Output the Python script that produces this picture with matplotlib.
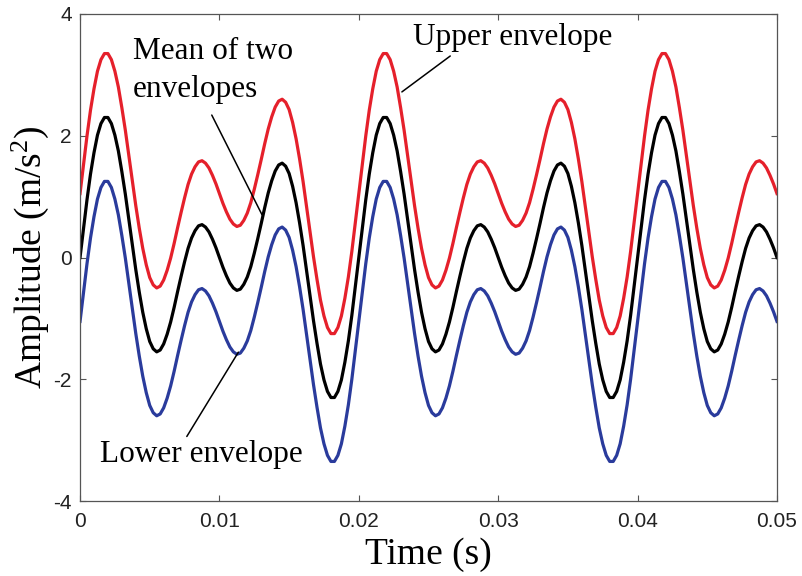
import numpy as np
import matplotlib
matplotlib.use("Agg")
import matplotlib.pyplot as plt

plt.rcParams["axes.unicode_minus"] = False
plt.rcParams["mathtext.fontset"] = "custom"
plt.rcParams["mathtext.rm"] = "Liberation Serif"
plt.rcParams["mathtext.it"] = "Liberation Serif:italic"
plt.rcParams["mathtext.default"] = "rm"

# Sampling grid (s)
time_s = np.linspace(0.0, 0.05, 201)

# Upper envelope (m/s^2)
upper_env = [
    1.05, 1.53, 2.00, 2.42, 2.77, 3.06, 3.25, 3.35, 3.35, 3.25,
    3.06, 2.80, 2.46, 2.09, 1.68, 1.26, 0.85, 0.48, 0.15, -0.12,
    -0.33, -0.45, -0.50, -0.47, -0.37, -0.21, -0.01, 0.23, 0.49, 0.74,
    0.98, 1.20, 1.37, 1.49, 1.57, 1.59, 1.55, 1.47, 1.35, 1.21,
    1.05, 0.89, 0.75, 0.63, 0.55, 0.51, 0.53, 0.61, 0.73, 0.90,
    1.12, 1.36, 1.61, 1.87, 2.11, 2.31, 2.47, 2.57, 2.60, 2.55,
    2.43, 2.22, 1.95, 1.62, 1.25, 0.84, 0.42, 0.01, -0.36, -0.70,
    -0.96, -1.15, -1.25, -1.25, -1.15, -0.96, -0.67, -0.32, 0.10, 0.57,
    1.05, 1.53, 2.00, 2.42, 2.77, 3.06, 3.25, 3.35, 3.35, 3.25,
    3.06, 2.80, 2.46, 2.09, 1.68, 1.26, 0.85, 0.48, 0.15, -0.12,
    -0.33, -0.45, -0.50, -0.47, -0.37, -0.21, -0.01, 0.23, 0.49, 0.74,
    0.98, 1.20, 1.37, 1.49, 1.57, 1.59, 1.55, 1.47, 1.35, 1.21,
    1.05, 0.89, 0.75, 0.63, 0.55, 0.51, 0.53, 0.61, 0.73, 0.90,
    1.12, 1.36, 1.61, 1.87, 2.11, 2.31, 2.47, 2.57, 2.60, 2.55,
    2.43, 2.22, 1.95, 1.62, 1.25, 0.84, 0.42, 0.01, -0.36, -0.70,
    -0.96, -1.15, -1.25, -1.25, -1.15, -0.96, -0.67, -0.32, 0.10, 0.57,
    1.05, 1.53, 2.00, 2.42, 2.77, 3.06, 3.25, 3.35, 3.35, 3.25,
    3.06, 2.80, 2.46, 2.09, 1.68, 1.26, 0.85, 0.48, 0.15, -0.12,
    -0.33, -0.45, -0.50, -0.47, -0.37, -0.21, -0.01, 0.23, 0.49, 0.74,
    0.98, 1.20, 1.37, 1.49, 1.57, 1.59, 1.55, 1.47, 1.35, 1.21,
    1.05,
]

# Mean of the two envelopes (m/s^2)
mean_env = [
    0.00, 0.48, 0.95, 1.37, 1.72, 2.01, 2.20, 2.30, 2.30, 2.20,
    2.01, 1.75, 1.41, 1.04, 0.63, 0.21, -0.20, -0.57, -0.90, -1.17,
    -1.38, -1.50, -1.55, -1.52, -1.42, -1.26, -1.06, -0.82, -0.56, -0.31,
    -0.07, 0.15, 0.32, 0.44, 0.52, 0.54, 0.50, 0.42, 0.30, 0.16,
    0.00, -0.16, -0.30, -0.42, -0.50, -0.54, -0.52, -0.44, -0.32, -0.15,
    0.07, 0.31, 0.56, 0.82, 1.06, 1.26, 1.42, 1.52, 1.55, 1.50,
    1.38, 1.17, 0.90, 0.57, 0.20, -0.21, -0.63, -1.04, -1.41, -1.75,
    -2.01, -2.20, -2.30, -2.30, -2.20, -2.01, -1.72, -1.37, -0.95, -0.48,
    0.00, 0.48, 0.95, 1.37, 1.72, 2.01, 2.20, 2.30, 2.30, 2.20,
    2.01, 1.75, 1.41, 1.04, 0.63, 0.21, -0.20, -0.57, -0.90, -1.17,
    -1.38, -1.50, -1.55, -1.52, -1.42, -1.26, -1.06, -0.82, -0.56, -0.31,
    -0.07, 0.15, 0.32, 0.44, 0.52, 0.54, 0.50, 0.42, 0.30, 0.16,
    0.00, -0.16, -0.30, -0.42, -0.50, -0.54, -0.52, -0.44, -0.32, -0.15,
    0.07, 0.31, 0.56, 0.82, 1.06, 1.26, 1.42, 1.52, 1.55, 1.50,
    1.38, 1.17, 0.90, 0.57, 0.20, -0.21, -0.63, -1.04, -1.41, -1.75,
    -2.01, -2.20, -2.30, -2.30, -2.20, -2.01, -1.72, -1.37, -0.95, -0.48,
    0.00, 0.48, 0.95, 1.37, 1.72, 2.01, 2.20, 2.30, 2.30, 2.20,
    2.01, 1.75, 1.41, 1.04, 0.63, 0.21, -0.20, -0.57, -0.90, -1.17,
    -1.38, -1.50, -1.55, -1.52, -1.42, -1.26, -1.06, -0.82, -0.56, -0.31,
    -0.07, 0.15, 0.32, 0.44, 0.52, 0.54, 0.50, 0.42, 0.30, 0.16,
    0.00,
]

# Lower envelope (m/s^2)
lower_env = [
    -1.05, -0.57, -0.10, 0.32, 0.67, 0.96, 1.15, 1.25, 1.25, 1.15,
    0.96, 0.70, 0.36, -0.01, -0.42, -0.84, -1.25, -1.62, -1.95, -2.22,
    -2.43, -2.55, -2.60, -2.57, -2.47, -2.31, -2.11, -1.87, -1.61, -1.36,
    -1.12, -0.90, -0.73, -0.61, -0.53, -0.51, -0.55, -0.63, -0.75, -0.89,
    -1.05, -1.21, -1.35, -1.47, -1.55, -1.59, -1.57, -1.49, -1.37, -1.20,
    -0.98, -0.74, -0.49, -0.23, 0.01, 0.21, 0.37, 0.47, 0.50, 0.45,
    0.33, 0.12, -0.15, -0.48, -0.85, -1.26, -1.68, -2.09, -2.46, -2.80,
    -3.06, -3.25, -3.35, -3.35, -3.25, -3.06, -2.77, -2.42, -2.00, -1.53,
    -1.05, -0.57, -0.10, 0.32, 0.67, 0.96, 1.15, 1.25, 1.25, 1.15,
    0.96, 0.70, 0.36, -0.01, -0.42, -0.84, -1.25, -1.62, -1.95, -2.22,
    -2.43, -2.55, -2.60, -2.57, -2.47, -2.31, -2.11, -1.87, -1.61, -1.36,
    -1.12, -0.90, -0.73, -0.61, -0.53, -0.51, -0.55, -0.63, -0.75, -0.89,
    -1.05, -1.21, -1.35, -1.47, -1.55, -1.59, -1.57, -1.49, -1.37, -1.20,
    -0.98, -0.74, -0.49, -0.23, 0.01, 0.21, 0.37, 0.47, 0.50, 0.45,
    0.33, 0.12, -0.15, -0.48, -0.85, -1.26, -1.68, -2.09, -2.46, -2.80,
    -3.06, -3.25, -3.35, -3.35, -3.25, -3.06, -2.77, -2.42, -2.00, -1.53,
    -1.05, -0.57, -0.10, 0.32, 0.67, 0.96, 1.15, 1.25, 1.25, 1.15,
    0.96, 0.70, 0.36, -0.01, -0.42, -0.84, -1.25, -1.62, -1.95, -2.22,
    -2.43, -2.55, -2.60, -2.57, -2.47, -2.31, -2.11, -1.87, -1.61, -1.36,
    -1.12, -0.90, -0.73, -0.61, -0.53, -0.51, -0.55, -0.63, -0.75, -0.89,
    -1.05,
]

x_ticks = [0, 0.01, 0.02, 0.03, 0.04, 0.05]
x_tick_labels = ["0", "0.01", "0.02", "0.03", "0.04", "0.05"]
y_ticks = [-4, -2, 0, 2, 4]
y_tick_labels = ["-4", "-2", "0", "2", "4"]

serif = ["Liberation Serif", "DejaVu Serif"]
sans = ["Liberation Sans", "DejaVu Sans"]

fig = plt.figure(figsize=(8.02, 5.76), dpi=100)
ax = fig.add_axes([0.0998, 0.1302, 0.8690, 0.8455])

ax.plot(time_s, upper_env, color="#e5202b", lw=2.3, solid_joinstyle="round")
ax.plot(time_s, mean_env, color="#000000", lw=2.3, solid_joinstyle="round")
ax.plot(time_s, lower_env, color="#2a3b9c", lw=2.3, solid_joinstyle="round")

ax.set_xlim(0, 0.05)
ax.set_ylim(-4, 4)
ax.set_xticks(x_ticks)
ax.set_xticklabels(x_tick_labels, family=sans, fontsize=15)
ax.set_yticks(y_ticks)
ax.set_yticklabels(y_tick_labels, family=sans, fontsize=15)
ax.tick_params(direction="in", top=True, right=True, length=4.5,
               width=0.8, color="#555555", labelcolor="#222222")
ax.tick_params(axis="x", pad=8)
ax.tick_params(axis="y", pad=6)
for sp in ax.spines.values():
    sp.set_color("#555555")
    sp.set_linewidth(0.9)

ax.set_xlabel("Time (s)", family=serif, fontsize=27)
ax.set_ylabel("Amplitude (m/s$^2$)", family=serif, fontsize=27)
ax.xaxis.set_label_coords(0.5, -0.075)
ax.yaxis.set_label_coords(-0.042, 0.5)

# Callout labels with leader lines
txt_kw = dict(family=serif, fontsize=22.5, ha="left", va="baseline", color="black")
ax.text(0.0038, 3.26, "Mean of two", **txt_kw)
ax.text(0.0038, 2.64, "envelopes", **txt_kw)
ax.text(0.0239, 3.49, "Upper envelope", **txt_kw)
ax.text(0.00144, -3.36, "Lower envelope", **txt_kw)

line_kw = dict(arrowstyle="-", color="black", lw=1.1, shrinkA=0, shrinkB=0)
ax.annotate("", xy=(0.01306, 0.70), xytext=(0.00945, 2.34), arrowprops=line_kw)
ax.annotate("", xy=(0.02309, 2.72), xytext=(0.02656, 3.31), arrowprops=line_kw)
ax.annotate("", xy=(0.01136, -1.555), xytext=(0.00766, -2.94), arrowprops=line_kw)

fig.savefig("out.png", dpi=100)
